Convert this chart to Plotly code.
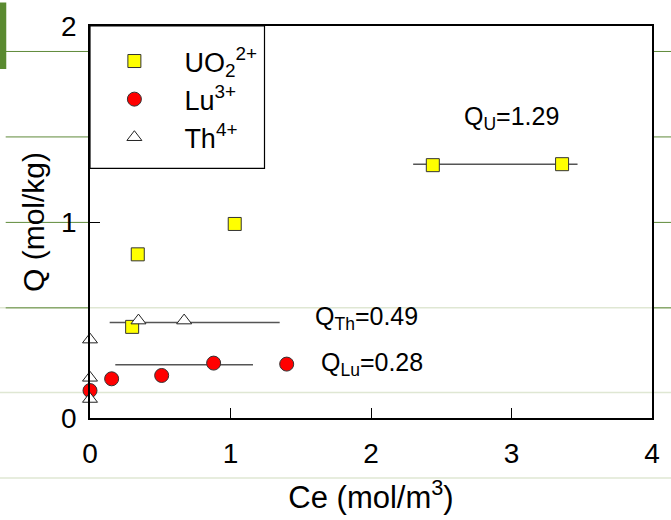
import plotly.graph_objects as go

# ---- data ----
u_ce = [0.30, 0.34, 1.03, 2.44, 3.36]
u_q = [0.465, 0.835, 0.99, 1.29, 1.295]

lu_ce = [0.0, 0.154, 0.51, 0.88, 1.40]
lu_q = [0.14, 0.20, 0.217, 0.28, 0.275]

th_ce = [0.0, 0.0, 0.0, 0.345, 0.67]
th_q = [0.40, 0.205, 0.097, 0.497, 0.497]

# plateau (maximum capacity) lines
qu_line_x = [2.30, 3.47]
qu_line_y = [1.295, 1.295]
qth_line_x = [0.14, 1.35]
qth_line_y = [0.487, 0.487]
qlu_line_x = [0.18, 1.16]
qlu_line_y = [0.272, 0.272]

x_ticks = [0, 1, 2, 3, 4]
y_ticks = [0, 1, 2]

FONT = "Arial, Liberation Sans, sans-serif"

fig = go.Figure()

for lx, ly in [(qu_line_x, qu_line_y), (qth_line_x, qth_line_y), (qlu_line_x, qlu_line_y)]:
    fig.add_trace(go.Scatter(x=lx, y=ly, mode="lines", showlegend=False,
                             line=dict(color="#555555", width=1.5), hoverinfo="skip"))

fig.add_trace(go.Scatter(x=u_ce, y=u_q, mode="markers", name="UO<sub>2</sub><sup>2+</sup>",
                         cliponaxis=False,
                         marker=dict(symbol="square", size=13, color="#ffff00",
                                     line=dict(color="#333333", width=1))))
fig.add_trace(go.Scatter(x=lu_ce, y=lu_q, mode="markers", name="Lu<sup>3+</sup>",
                         cliponaxis=False,
                         marker=dict(symbol="circle", size=14, color="#ff0000",
                                     line=dict(color="#333333", width=1))))
fig.add_trace(go.Scatter(x=th_ce, y=th_q, mode="markers", name="Th<sup>4+</sup>",
                         cliponaxis=False,
                         marker=dict(symbol="triangle-up", size=13, color="white",
                                     line=dict(color="#222222", width=1))))

annos = [
    dict(x=3.0, y=1.53, text="Q<sub>U</sub>=1.29", xanchor="center"),
    dict(x=1.59, y=0.51, text="Q<sub>Th</sub>=0.49", xanchor="left"),
    dict(x=1.63, y=0.275, text="Q<sub>Lu</sub>=0.28", xanchor="left"),
]
for a in annos:
    fig.add_annotation(x=a["x"], y=a["y"], text=a["text"], xanchor=a["xanchor"],
                       yanchor="middle", showarrow=False,
                       font=dict(family=FONT, size=25, color="black"))

# faint scan artefact lines
shapes = []
pale = "#dfe7d3"
green = "#5f8a3a"
for yp in [0.281, 0.065, -0.153]:
    shapes.append(dict(type="line", xref="paper", yref="paper", x0=-0.2, x1=1.05,
                       y0=yp, y1=yp, line=dict(color=pale, width=1.5), layer="below"))
for yp in [0.935, 0.717, 0.499, 0.281]:
    shapes.append(dict(type="line", xref="paper", yref="paper", x0=-0.15, x1=0.0,
                       y0=yp, y1=yp, line=dict(color=green, width=1), layer="below"))
for yp in [0.935, 0.717, 0.499, 0.281]:
    shapes.append(dict(type="line", xref="paper", yref="paper", x0=1.0, x1=1.05,
                       y0=yp, y1=yp, line=dict(color=green, width=1), layer="below"))
shapes.append(dict(type="rect", xref="paper", yref="paper", x0=-0.2, x1=-0.149,
                   y0=0.89, y1=1.06, fillcolor="#5a8a30", line=dict(width=0), layer="below"))
# legend frame
shapes.append(dict(type="rect", xref="paper", yref="paper", x0=0.0, x1=0.3105,
                   y0=0.6366, y1=1.0, fillcolor="white",
                   line=dict(color="black", width=1.2), layer="above"))

fig.update_layout(
    width=671, height=520,
    margin=dict(l=90, r=11, t=21, b=100),
    paper_bgcolor="white", plot_bgcolor="white",
    font=dict(family=FONT, color="black"),
    shapes=shapes,
    showlegend=True,
    legend=dict(x=-0.01, y=0.972, xanchor="left", yanchor="top",
                bgcolor="rgba(0,0,0,0)", borderwidth=0,
                font=dict(family=FONT, size=27, color="black"),
                itemwidth=90, tracegroupgap=0),
    xaxis=dict(range=[0, 4], tickvals=x_ticks, ticks="inside", ticklen=10,
               tickcolor="black", showline=True, linecolor="black", linewidth=1.5,
               mirror=True, showgrid=False, zeroline=False,
               tickfont=dict(family=FONT, size=28), ticklabelstandoff=10,
               title=dict(text="Ce (mol/m<sup>3</sup>)", font=dict(family=FONT, size=31),
                          standoff=18)),
    yaxis=dict(range=[0, 2], tickvals=y_ticks, ticks="inside", ticklen=10,
               tickcolor="black", showline=True, linecolor="black", linewidth=1.5,
               mirror=True, showgrid=False, zeroline=False,
               tickfont=dict(family=FONT, size=28), ticklabelstandoff=6,
               title=dict(text="Q (mol/kg)", font=dict(family=FONT, size=30),
                          standoff=8)),
)

fig.write_html("out.html")
